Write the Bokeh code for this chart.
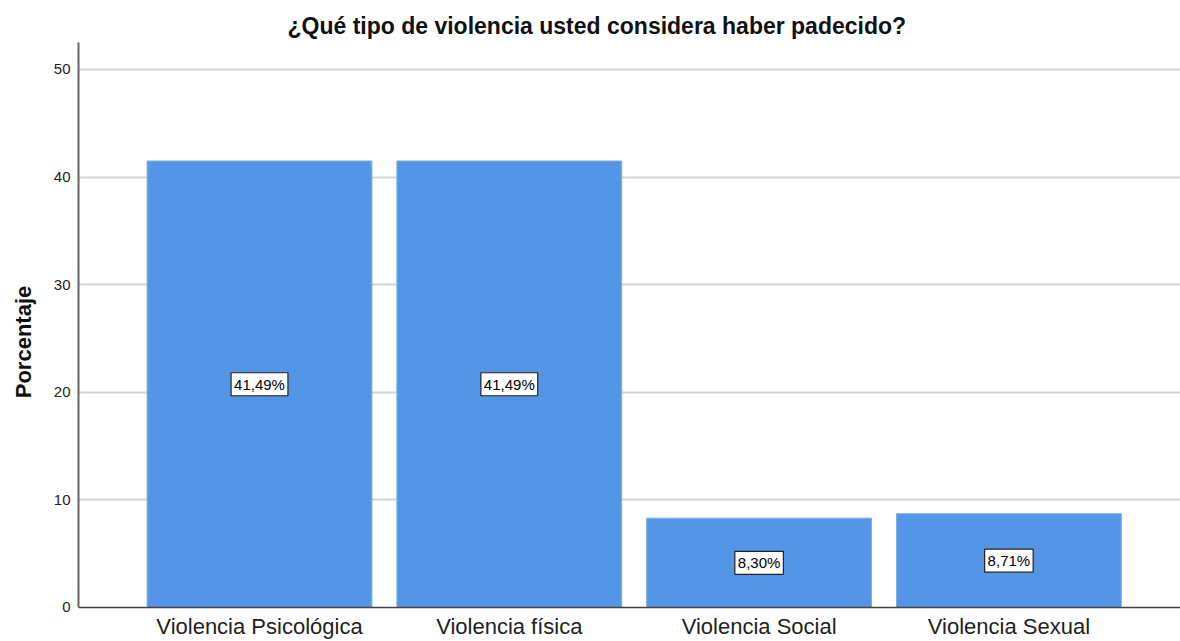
from bokeh.plotting import figure
from bokeh.models import ColumnDataSource, Range1d, FixedTicker, Span
from bokeh.core.properties import value
from bokeh.embed import file_html
from bokeh.resources import INLINE

categories = ["Violencia Psicológica", "Violencia física", "Violencia Social", "Violencia Sexual"]
percentages = [41.49, 41.49, 8.30, 8.71]
y_ticks = [0, 10, 20, 30, 40, 50]

FONT = "Liberation Sans"

xs = list(range(len(categories)))
labels = [("%.2f" % v).replace(".", ",") + "%" for v in percentages]
src = ColumnDataSource(dict(x=xs, top=percentages, mid=[v / 2 for v in percentages],
                            lab=labels, cat=categories, zero=[0] * len(xs)))

p = figure(width=1180, height=641, output_backend="svg", toolbar_location=None,
           x_range=Range1d(-0.7246, 3.687), y_range=Range1d(-3.16, 52.5),
           min_border_left=78, min_border_right=0, min_border_top=42, min_border_bottom=0)
p.outline_line_color = None
p.background_fill_color = "white"

p.title.text = "¿Qué tipo de violencia usted considera haber padecido?"
p.title.text_font = FONT
p.title.text_font_size = "23px"
p.title.text_font_style = "bold"
p.title.text_color = "#111111"
p.title.align = "left"
p.title.offset = 209
p.title.standoff = 7

p.vbar(x="x", top="top", width=0.9, bottom=0, source=src,
       fill_color="#5595E5", line_color="#7AAEEE", line_width=1)

p.text(x="x", y="mid", text="lab", source=src,
       text_align="center", text_baseline="middle",
       text_font=value(FONT), text_font_size="15px", text_color="black",
       background_fill_color="white", border_line_color="#222222",
       border_line_width=1.2, padding=3)

# category labels under the baseline
p.text(x="x", y="zero", text="cat", source=src, y_offset=19,
       text_align="center", text_baseline="alphabetic",
       text_font=value(FONT), text_font_size="22px", text_color="#222222")

# category axis baseline at 0
p.add_layout(Span(location=0, dimension="width", line_color="#444444", line_width=1.5))

p.xaxis.visible = False
p.xgrid.visible = False
p.ygrid.grid_line_color = "#d3d3d3"
p.ygrid.grid_line_width = 2
p.ygrid.ticker = FixedTicker(ticks=y_ticks[1:])

p.yaxis.ticker = FixedTicker(ticks=y_ticks)
p.yaxis.bounds = (0, 52.5)
p.yaxis.axis_label = "Porcentaje"
p.yaxis.axis_label_text_font = FONT
p.yaxis.axis_label_text_font_size = "22px"
p.yaxis.axis_label_text_font_style = "bold"
p.yaxis.axis_label_text_color = "#111111"
p.yaxis.axis_label_standoff = 15
p.yaxis.major_label_text_font = FONT
p.yaxis.major_label_text_font_size = "15px"
p.yaxis.major_label_text_color = "#222222"
p.yaxis.major_label_standoff = 2
p.yaxis.axis_line_color = "#666666"
p.yaxis.axis_line_width = 2
p.yaxis.major_tick_line_color = None
p.yaxis.minor_tick_line_color = None

open("out.html", "w").write(file_html(p, INLINE))
